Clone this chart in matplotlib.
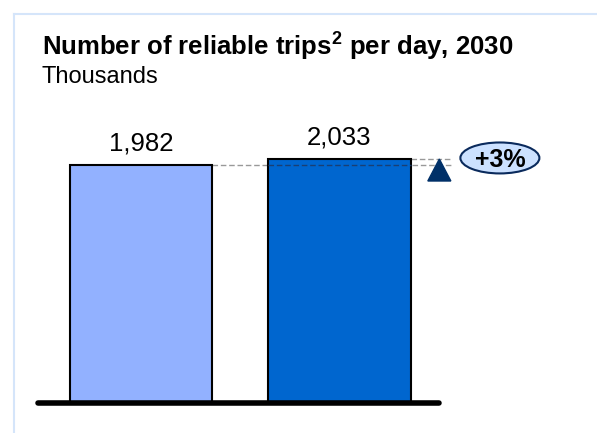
import numpy as np
import matplotlib.pyplot as plt
from matplotlib.patches import Ellipse, Polygon
from matplotlib.lines import Line2D

plt.rcParams['font.family'] = ['Liberation Sans', 'DejaVu Sans']
plt.rcParams['mathtext.fontset'] = 'custom'
plt.rcParams['mathtext.rm'] = 'Liberation Sans'
plt.rcParams['mathtext.bf'] = 'Liberation Sans:bold'

# data
categories = ['Base', 'Scenario']
values = [1982, 2033]
bar_colors = ['#92B1FF', '#0066CF']
change_label = '+3%'
title = r'Number of reliable trips$^\mathbf{2}$ per day, 2030'
subtitle = 'Thousands'

W, H = 597, 433
fig = plt.figure(figsize=(W / 100, H / 100), dpi=100)
fig.patch.set_facecolor('white')

# light blue frame on left and top
fig.add_artist(Line2D([14 / W, 14 / W], [0, 1 - 14 / H], color='#D5E5FA', lw=1.5))
fig.add_artist(Line2D([14 / W, 1], [1 - 14 / H, 1 - 14 / H], color='#D5E5FA', lw=1.5))

ax = fig.add_axes([0, 0, 1, 1])
ax.set_axis_off()
ppu = 0.12  # pixels per unit
base_px = 30
ax.set_ylim(-base_px / ppu, (H - base_px) / ppu)
sp = 198.5
ax.set_xlim(-141 / sp, (W - 141) / sp)

x = np.arange(len(values))
bw = 0.72
ax.bar(x, values, width=bw, color=bar_colors, edgecolor='black', linewidth=1.5, zorder=2)

# baseline
ax.plot([-0.52, 1.50], [0, 0], color='black', lw=4, solid_capstyle='round', zorder=3)

# value labels
for xi, v in zip(x, values):
    ax.text(xi, v + 80, f'{v:,}', ha='center', va='bottom', fontsize=18.5, color='black')

# dashed reference lines
right = 1.567
ax.plot([x[0] + bw / 2, right], [values[0], values[0]], color='#999999', lw=1,
        dashes=(4, 2), zorder=1)
ax.plot([x[1] - bw / 2, x[1] + bw / 2], [values[0], values[0]], color='#1a3f73', lw=1,
        dashes=(4, 2), zorder=3)
ax.plot([x[1] + bw / 2, right], [values[1], values[1]], color='#999999', lw=1,
        dashes=(4, 2), zorder=1)

# triangle
tx = 1.503
tw = 0.058
ax.add_patch(Polygon([[tx - tw, values[1] - 183], [tx + tw, values[1] - 183], [tx, values[1]]],
                     closed=True, color='#003068', zorder=3))

# ellipse with change
ex, ey = 1.808, values[1] + 9
ax.add_patch(Ellipse((ex, ey), 0.398, 258, facecolor='#CCE1FF', edgecolor='#0A2A5C', lw=1.5, zorder=3))
ax.text(ex, ey, change_label, ha='center', va='center_baseline', fontsize=18, fontweight='bold', zorder=4)

fig.text(42 / W, 1 - 55 / H, title, fontsize=18.5, fontweight='bold', ha='left', va='baseline')
fig.text(42 / W, 1 - 83 / H, subtitle, fontsize=17, ha='left', va='baseline')

fig.savefig('out.png', dpi=100)
